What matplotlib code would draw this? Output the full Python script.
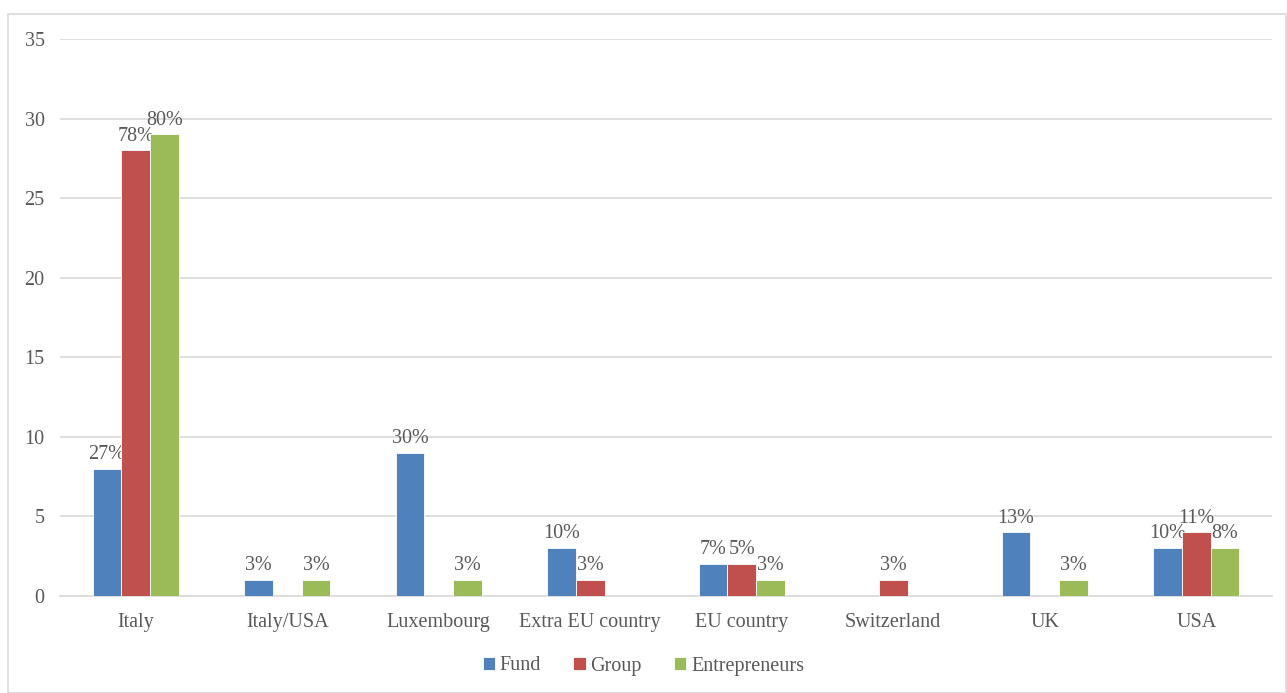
import matplotlib.pyplot as plt
import numpy as np
from matplotlib.patches import Rectangle

plt.rcParams['font.family'] = ['Liberation Serif', 'DejaVu Serif']

categories = ['Italy', 'Italy/USA', 'Luxembourg', 'Extra EU country',
              'EU country', 'Switzerland', 'UK', 'USA']
fund = [8, 1, 9, 3, 2, 0, 4, 3]
group = [28, 0, 0, 1, 2, 1, 0, 4]
entrepreneurs = [29, 1, 1, 0, 1, 0, 1, 3]
fund_pct = ['27%', '3%', '30%', '10%', '7%', '', '13%', '10%']
group_pct = ['78%', '', '', '3%', '5%', '3%', '', '11%']
entr_pct = ['80%', '3%', '3%', '', '3%', '', '3%', '8%']

series = [
    ('Fund', fund, fund_pct, '#4F81BD'),
    ('Group', group, group_pct, '#C0504D'),
    ('Entrepreneurs', entrepreneurs, entr_pct, '#9BBB59'),
]

text_color = '#595959'
grid_color = '#D9D9D9'
fs = 14.5

fig = plt.figure(figsize=(12.87, 6.93), dpi=100)
fig.patches.append(Rectangle((8 / 1287, 0), 1 - 8 / 1287 - 0.0005, 1 - 14 / 693,
                             transform=fig.transFigure, fill=False,
                             edgecolor=grid_color, linewidth=1.2))
ax = fig.add_axes([60 / 1287, 97 / 693, 1212 / 1287, 557 / 693])

x = np.arange(len(categories))
width = 0.19
for i, (name, vals, pcts, color) in enumerate(series):
    pos = x + (i - 1) * width
    bars = ax.bar(pos, vals, width, color=color, edgecolor='white',
                  linewidth=0.6, label=name, zorder=3)
    for b, v, p in zip(bars, vals, pcts):
        if p:
            ax.text(b.get_x() + b.get_width() / 2, v + 0.3, p,
                    ha='center', va='bottom', fontsize=fs, color=text_color)

ax.set_xlim(-0.5, len(categories) - 0.5)
ax.set_ylim(0, 35)
ax.set_yticks(range(0, 36, 5))
ax.set_xticks(x)
ax.set_xticklabels(categories)
ax.tick_params(length=0, labelsize=fs, labelcolor=text_color)
ax.tick_params(axis='y', pad=11)
ax.tick_params(axis='x', pad=12)
ax.yaxis.grid(True, color=grid_color, linewidth=1.2, zorder=0)
for s in ['top', 'right', 'left']:
    ax.spines[s].set_visible(False)
ax.spines['bottom'].set_color(grid_color)
ax.spines['bottom'].set_linewidth(1.2)

handles, labels = ax.get_legend_handles_labels()
fig.legend(handles, labels, loc='center', bbox_to_anchor=(0.5, 1 - 666 / 693),
           ncol=3, frameon=False, fontsize=fs, labelcolor=text_color,
           handlelength=0.6, handleheight=0.6, handletextpad=0.25,
           columnspacing=1.6)

fig.savefig('out.png', dpi=100)
